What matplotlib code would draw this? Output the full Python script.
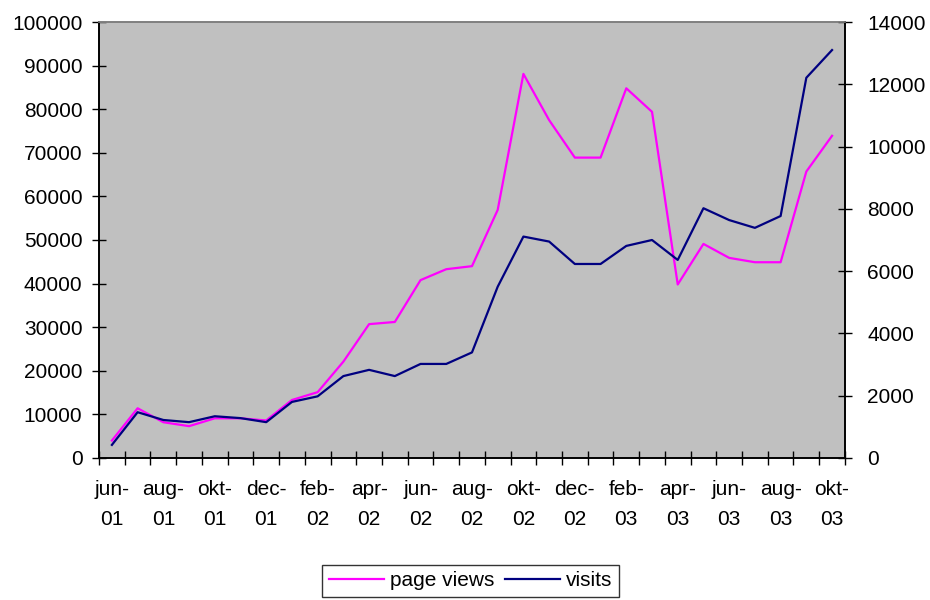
import matplotlib
matplotlib.use("Agg")
import matplotlib.pyplot as plt
import numpy as np

plt.rcParams["font.family"] = ["Liberation Sans", "DejaVu Sans"]

months = ["jun-01", "jul-01", "aug-01", "sep-01", "okt-01", "nov-01", "dec-01",
          "jan-02", "feb-02", "mrt-02", "apr-02", "mei-02", "jun-02", "jul-02",
          "aug-02", "sep-02", "okt-02", "nov-02", "dec-02", "jan-03", "feb-03",
          "mrt-03", "apr-03", "mei-03", "jun-03", "jul-03", "aug-03", "sep-03",
          "okt-03"]
page_views = [4000, 11400, 8200, 7300, 9100, 9100, 8600, 13300, 15100, 22100,
              30700, 31200, 40800, 43300, 44000, 56900, 88100, 77500, 68900,
              68900, 84800, 79400, 39800, 49100, 45900, 44900, 44900, 65700,
              73900]
visits = [420, 1470, 1220, 1150, 1340, 1280, 1150, 1800, 1980, 2630, 2830,
          2630, 3020, 3020, 3390, 5500, 7110, 6950, 6230, 6230, 6810, 7000,
          6360, 8020, 7640, 7390, 7770, 12210, 13100]

x = np.arange(len(months))
fs = 15

fig = plt.figure(figsize=(9.3, 6), dpi=100)
ax = fig.add_axes([0.1065, 0.2367, 0.802, 0.7266])
ax.set_facecolor("#C0C0C0")
ax2 = ax.twinx()

l1, = ax.plot(x, page_views, color="#FF00FF", lw=1.6, label="page views")
l2, = ax2.plot(x, visits, color="#000080", lw=1.6, label="visits")

ax.set_xlim(-0.5, len(months) - 0.5)
ax.set_ylim(0, 100000)
ax2.set_ylim(0, 14000)
ax.set_yticks(np.arange(0, 100001, 10000))
ax2.set_yticks(np.arange(0, 14001, 2000))

# labels on every second month, tick marks between categories
ax.set_xticks(x[::2])
ax.set_xticklabels([m.replace("-", "-\n") for m in months[::2]], linespacing=1.7)
ax.set_xticks(np.arange(-0.5, len(months), 1), minor=True)
ax.tick_params(axis="x", which="major", length=0, pad=16, labelsize=fs)
ax.tick_params(axis="x", which="minor", direction="inout", length=10, width=1)
ax.tick_params(axis="y", direction="inout", length=10, width=1, labelsize=fs, pad=7)
ax2.tick_params(axis="y", direction="inout", length=10, width=1, labelsize=fs, pad=11)

for a in (ax, ax2):
    for s in ("left", "right", "bottom"):
        a.spines[s].set_color("black")
        a.spines[s].set_linewidth(1.2)
    a.spines["top"].set_color("#808080")
    a.spines["top"].set_linewidth(1.2)

leg = fig.legend(handles=[l1, l2], loc="upper center", bbox_to_anchor=(0.506, 0.058),
                 ncol=2, frameon=True, fancybox=False, fontsize=fs,
                 handlelength=2.65, columnspacing=0.5, handletextpad=0.3,
                 borderaxespad=0, borderpad=0.3)
leg.get_frame().set_edgecolor("black")
leg.get_frame().set_linewidth(1.0)

fig.savefig("out.png", dpi=100)
